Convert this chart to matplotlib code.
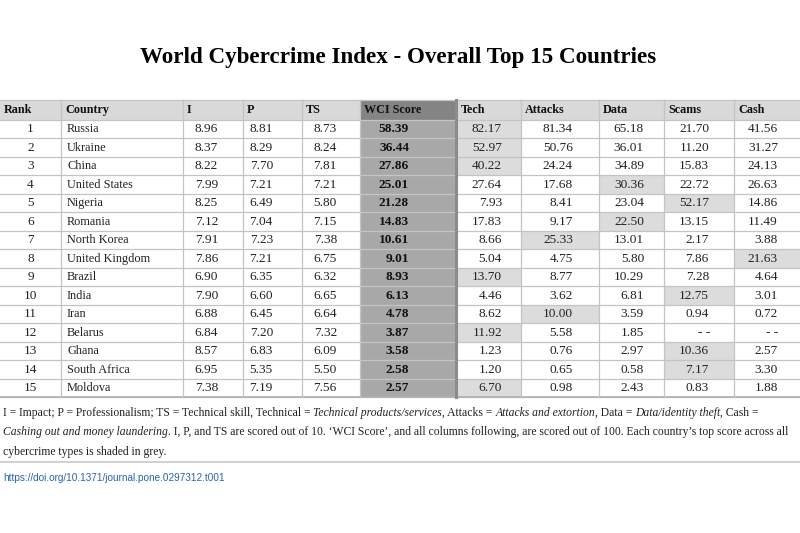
import matplotlib
matplotlib.use("Agg")
import matplotlib.pyplot as plt
from matplotlib.patches import Rectangle
import numpy as np

# table data
ranks = list(range(1, 16))
countries = ["Russia", "Ukraine", "China", "United States", "Nigeria", "Romania",
             "North Korea", "United Kingdom", "Brazil", "India", "Iran", "Belarus",
             "Ghana", "South Africa", "Moldova"]
impact = [8.96, 8.37, 8.22, 7.99, 8.25, 7.12, 7.91, 7.86, 6.90, 7.90, 6.88, 6.84, 8.57, 6.95, 7.38]
prof = [8.81, 8.29, 7.70, 7.21, 6.49, 7.04, 7.23, 7.21, 6.35, 6.60, 6.45, 7.20, 6.83, 5.35, 7.19]
tskill = [8.73, 8.24, 7.81, 7.21, 5.80, 7.15, 7.38, 6.75, 6.32, 6.65, 6.64, 7.32, 6.09, 5.50, 7.56]
wci = [58.39, 36.44, 27.86, 25.01, 21.28, 14.83, 10.61, 9.01, 8.93, 6.13, 4.78, 3.87, 3.58, 2.58, 2.57]
tech = [82.17, 52.97, 40.22, 27.64, 7.93, 17.83, 8.66, 5.04, 13.70, 4.46, 8.62, 11.92, 1.23, 1.20, 6.70]
attacks = [81.34, 50.76, 24.24, 17.68, 8.41, 9.17, 25.33, 4.75, 8.77, 3.62, 10.00, 5.58, 0.76, 0.65, 0.98]
data_theft = [65.18, 36.01, 34.89, 30.36, 23.04, 22.50, 13.01, 5.80, 10.29, 6.81, 3.59, 1.85, 2.97, 0.58, 2.43]
scams = [21.70, 11.20, 15.83, 22.72, 52.17, 13.15, 2.17, 7.86, 7.28, 12.75, 0.94, None, 10.36, 7.17, 0.83]
cash = [41.56, 31.27, 24.13, 26.63, 14.86, 11.49, 3.88, 21.63, 4.64, 3.01, 0.72, None, 2.57, 3.30, 1.88]

headers = ["Rank", "Country", "I", "P", "TS", "WCI Score", "Tech", "Attacks", "Data", "Scams", "Cash"]

# layout (pixels)
col_l = [0, 61, 183, 243, 302, 360, 457, 521, 599, 664, 734]
col_r = [61, 183, 243, 302, 360, 455, 521, 599, 664, 734, 800]
num_right = [None, None, 218, 273, 337, 409, 502, 573, 644, 709, 778]
head_top, head_h, row_h = 100, 19.5, 18.5

serif = "Liberation Serif"
grid_c = "#c4c4c4"
txt_c = "#222222"

fig = plt.figure(figsize=(8, 5.33), dpi=100)
ax = fig.add_axes([0, 0, 1, 1])
ax.set_xlim(0, 800)
ax.set_ylim(533, 0)
ax.axis("off")

ax.text(398, 57, "World Cybercrime Index - Overall Top 15 Countries", ha="center", va="center",
        fontsize=16.6, fontweight="bold", family=serif)

# header
for j, h in enumerate(headers):
    fc = "#848484" if h == "WCI Score" else "#d9d9d9"
    ax.add_patch(Rectangle((col_l[j], head_top), col_r[j] - col_l[j], head_h, fc=fc, ec="none"))
    ax.text(col_l[j] + 4, head_top + head_h / 2 + 0.5, h, ha="left", va="center",
            fontsize=8.7, fontweight="bold", family=serif, color="#111111")

sub_cols = [tech, attacks, data_theft, scams, cash]
n = len(countries)
for i in range(n):
    y0 = head_top + head_h + i * row_h
    yc = y0 + row_h / 2 + 0.5
    # WCI column shading
    ax.add_patch(Rectangle((col_l[5], y0), col_r[5] - col_l[5], row_h, fc="#a8a8a8", ec="none"))
    # highlight each country's top cybercrime type
    vals = [c[i] if c[i] is not None else -1 for c in sub_cols]
    k = int(np.argmax(vals)) + 6
    ax.add_patch(Rectangle((col_l[k], y0), col_r[k] - col_l[k], row_h, fc="#dcdcdc", ec="none"))

    ax.text((col_l[0] + col_r[0]) / 2, yc, str(ranks[i]), ha="center", va="center",
            fontsize=9.6, family=serif, color=txt_c)
    ax.text(col_l[1] + 6, yc, countries[i], ha="left", va="center",
            fontsize=8.8, family=serif, color=txt_c)
    row_vals = [impact[i], prof[i], tskill[i], wci[i]] + [c[i] for c in sub_cols]
    for j, v in enumerate(row_vals, start=2):
        if v is None:
            ax.text((col_l[j] + col_r[j]) / 2 + 5, yc, "- -", ha="center", va="center",
                    fontsize=9.6, family=serif, color=txt_c)
            continue
        ax.text(num_right[j], yc, f"{v:.2f}", ha="right", va="center", fontsize=9.6,
                family=serif, color="#111111" if j == 5 else txt_c,
                fontweight="bold" if j == 5 else "normal")

table_bottom = head_top + head_h + n * row_h
# grid lines
for i in range(n + 1):
    y = head_top + head_h + i * row_h
    ax.plot([0, 800], [y, y], color=grid_c, lw=0.9)
ax.plot([0, 800], [head_top, head_top], color=grid_c, lw=0.9)
ax.plot([0, 800], [table_bottom, table_bottom], color="#b0b0b0", lw=1.2)
for x in [61, 183, 243, 302, 360, 521, 599, 664, 734]:
    ax.plot([x, x], [head_top, table_bottom], color=grid_c, lw=0.9)
ax.plot([455.5, 455.5], [head_top, table_bottom], color="#8c8c8c", lw=2.2)

# footnote with italic parts
fig.canvas.draw()
renderer = fig.canvas.get_renderer()
inv = ax.transData.inverted()

def write_pieces(pieces, x, y):
    for txt, style in pieces:
        t = ax.text(x, y, txt, ha="left", va="center", fontsize=8.4, family=serif,
                    style=style, color=txt_c)
        bb = t.get_window_extent(renderer)
        x = inv.transform((bb.x1, bb.y0))[0]

write_pieces([("I = Impact; P = Professionalism; TS = Technical skill, Technical = ", "normal"),
              ("Technical products/services", "italic"),
              (", Attacks = ", "normal"), ("Attacks and extortion", "italic"),
              (", Data = ", "normal"), ("Data/identity theft", "italic"),
              (", Cash =", "normal")], 3, 413)
write_pieces([("Cashing out and money laundering", "italic"),
              (". I, P, and TS are scored out of 10. \u2018WCI Score\u2019, and all columns following, are scored out of 100. Each country\u2019s top score across all", "normal")], 3, 432.5)
write_pieces([("cybercrime types is shaded in grey.", "normal")], 3, 452)

ax.plot([0, 800], [462, 462], color="#c8c8c8", lw=1.2)
ax.text(3, 478, "https://doi.org/10.1371/journal.pone.0297312.t001", ha="left", va="center",
        fontsize=7.2, family="Liberation Sans", color="#2a62b0")

fig.savefig("out.png", dpi=100)
